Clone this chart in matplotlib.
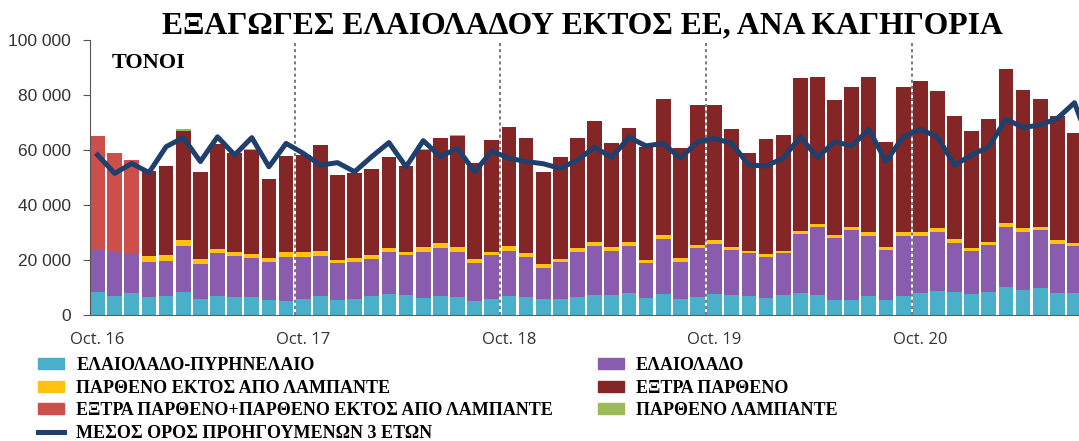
import numpy as np
import matplotlib
matplotlib.use("Agg")
import matplotlib.pyplot as plt
from matplotlib.patches import Patch
from matplotlib.lines import Line2D

# monthly exports, tonnes (Oct 2016 onwards)
pyrinelaio = [8500, 6900, 7900, 6700, 7000, 8200, 5700, 7000, 6700, 6700, 5500, 5200,
              5700, 6900, 5500, 5700, 7000, 7600, 7300, 6100, 7000, 6700, 5200, 5700,
              6900, 6700, 5700, 5700, 6700, 7300, 7300, 7900, 6100, 7500, 5700, 6700,
              7600, 7300, 6900, 6100, 7300, 7900, 7300, 5500, 5500, 7000, 5500, 7000,
              7900, 8800, 8200, 7600, 8500, 10300, 9100, 9700, 7900, 7900]
elaiolado = [15100, 15900, 14500, 12500, 12700, 16900, 12800, 15400, 14900, 14100, 13900, 16000,
             15500, 14600, 13300, 13700, 13400, 15200, 14500, 16900, 17500, 16300, 13800, 16100,
             16500, 14500, 11500, 13700, 16300, 17900, 16100, 17300, 12700, 20100, 13700, 17500,
             18200, 16300, 15500, 14900, 15100, 21700, 24600, 22400, 25400, 21700, 18100, 21700,
             20800, 21300, 18100, 15700, 17000, 21800, 21200, 21200, 17900, 17300]
parth_ektos = [0, 0, 0, 2300, 2100, 2200, 1700, 1600, 1400, 1500, 1200, 1600,
               1800, 1800, 1200, 1200, 1400, 1400, 1200, 1800, 1600, 1600, 1400, 1200,
               1700, 1500, 1300, 1000, 1200, 1200, 1200, 1200, 1200, 1500, 1200, 1300,
               1500, 1200, 1000, 1100, 1000, 1100, 1200, 1200, 1200, 1600, 1000, 1400,
               1400, 1400, 1300, 900, 1200, 1200, 1200, 1000, 1500, 900]
extra_plus_parth = [41600, 36200, 34000] + [0] * 55
extra_parth = [0, 0, 0, 30900, 32400, 39700, 31700, 38200, 35800, 37700, 28700, 35000,
               35200, 38700, 30900, 30900, 31200, 33100, 31200, 35200, 38400, 40500, 34700, 40600,
               43400, 41800, 33400, 37200, 40000, 44100, 37800, 41500, 41000, 49400, 40000, 50900,
               49100, 42700, 35400, 41800, 42100, 55300, 53600, 49100, 50700, 56400, 38200, 52900,
               55100, 50100, 44800, 42800, 44600, 56200, 50300, 46600, 45100, 40000]
parth_lampante = [0, 0, 0, 0, 0, 500, 0, 0, 0, 500, 0, 0,
                  0, 0, 0, 0, 0, 0, 0, 500, 0, 300, 0, 0,
                  0, 0, 0, 0, 0, 0, 0, 0, 0, 0, 0, 0,
                  0, 0, 0, 0, 0, 0, 0, 0, 0, 0, 0, 0,
                  0, 0, 0, 0, 0, 0, 0, 0, 0, 0]
avg_3y = [58200, 51500, 55100, 51800, 61200, 64500, 55800, 64800, 58200, 64500, 53900, 62400,
          58800, 54500, 55400, 52100, 57600, 62700, 53900, 63400, 57600, 60600, 52100, 59600,
          57000, 55800, 55000, 53300, 56400, 61000, 57300, 64600, 61500, 62400, 57000, 63000,
          64200, 62400, 54500, 54200, 57000, 64800, 57300, 63000, 61500, 67500, 55800, 64800,
          67500, 64800, 54500, 58200, 61200, 71200, 68200, 69100, 71500, 77200, 60000]
tick_labels = ["Oct. 16", "Oct. 17", "Oct. 18", "Oct. 19", "Oct. 20"]

names = ["ΕΛΑΙΟΛΑΔΟ-ΠΥΡΗΝΕΛΑΙΟ", "ΕΛΑΙΟΛΑΔΟ", "ΠΑΡΘΕΝΟ ΕΚΤΟΣ ΑΠΟ ΛΑΜΠΑΝΤΕ",
         "ΕΞΤΡΑ ΠΑΡΘΕΝΟ+ΠΑΡΘΕΝΟ ΕΚΤΟΣ ΑΠΟ ΛΑΜΠΑΝΤΕ", "ΕΞΤΡΑ ΠΑΡΘΕΝΟ", "ΠΑΡΘΕΝΟ ΛΑΜΠΑΝΤΕ"]
colors = ["#4AAFC8", "#8A5CAE", "#FFC20E", "#CC4F4C", "#852626", "#9BBB59"]
line_color = "#1F3F6D"

series = [pyrinelaio, elaiolado, parth_ektos, extra_plus_parth, extra_parth, parth_lampante]

fig = plt.figure(figsize=(10.79, 4.41), dpi=100)
ax = fig.add_axes([90 / 1079, 1 - 315 / 441, 1 - 90 / 1079, 275 / 441])

x = np.arange(len(pyrinelaio))
bottom = np.zeros(len(x))
for vals, c in zip(series, colors):
    vals = np.array(vals, dtype=float)
    ax.bar(x, vals, bottom=bottom, width=0.86, color=c, linewidth=0)
    bottom += vals

ax.plot(np.arange(len(avg_3y)), avg_3y, color=line_color, lw=3.6,
        solid_joinstyle="round", zorder=5)

# year separators
for xv in [11.5, 23.5, 35.5, 47.5]:
    ax.axvline(xv, color="#555555", lw=1.1, ls=(0, (2, 2)), zorder=4)

ax.set_xlim(-0.44, 57.26)
ax.set_ylim(0, 100000)
ax.set_yticks(np.arange(0, 100001, 20000))
ax.set_yticklabels(["0", "20 000", "40 000", "60 000", "80 000", "100 000"],
                   fontsize=12.5, family="Liberation Sans", color="#333333")
ax.set_xticks([0, 12, 24, 36, 48])
ax.set_xticklabels(tick_labels, fontsize=12, family="Open Sans", color="#333333")
ax.tick_params(axis="x", length=0, pad=12)
ax.tick_params(axis="y", length=5, color="#555555", pad=9)
for s in ["top", "right"]:
    ax.spines[s].set_visible(False)
ax.spines["left"].set_color("#555555")
ax.spines["bottom"].set_color("#7a5a3a")

fig.text(0.54, 1 - 33 / 441, "ΕΞΑΓΩΓΕΣ ΕΛΑΙΟΛΑΔΟΥ ΕΚΤΟΣ ΕΕ, ΑΝΑ ΚΑΓΗΓΟΡΙΑ",
         ha="center", va="baseline", fontsize=22.8, fontweight="bold",
         family="Liberation Serif")
fig.text(112 / 1079, 1 - 68 / 441, "ΤΟΝΟΙ", ha="left", va="baseline",
         fontsize=16, fontweight="bold", family="Liberation Serif")

handles = [Patch(color=colors[0]), Patch(color=colors[2]), Patch(color=colors[3]),
           Line2D([], [], color=line_color, lw=3.6),
           Patch(color=colors[1]), Patch(color=colors[4]), Patch(color=colors[5])]
labels = [names[0], names[2], names[3], "ΜΕΣΟΣ ΟΡΟΣ ΠΡΟΗΓΟΥΜΕΝΩΝ 3 ΕΤΩΝ",
          names[1], names[4], names[5]]
fig.legend(handles, labels, loc="upper left", bbox_to_anchor=(22 / 1079, 1 - 341 / 441),
           ncol=2, frameon=False, handlelength=1.45, handleheight=0.55,
           handletextpad=0.65, labelspacing=0.3, columnspacing=2.5,
           prop={"family": "Liberation Serif", "weight": "bold", "size": 13})

fig.savefig("out.png", dpi=100)
